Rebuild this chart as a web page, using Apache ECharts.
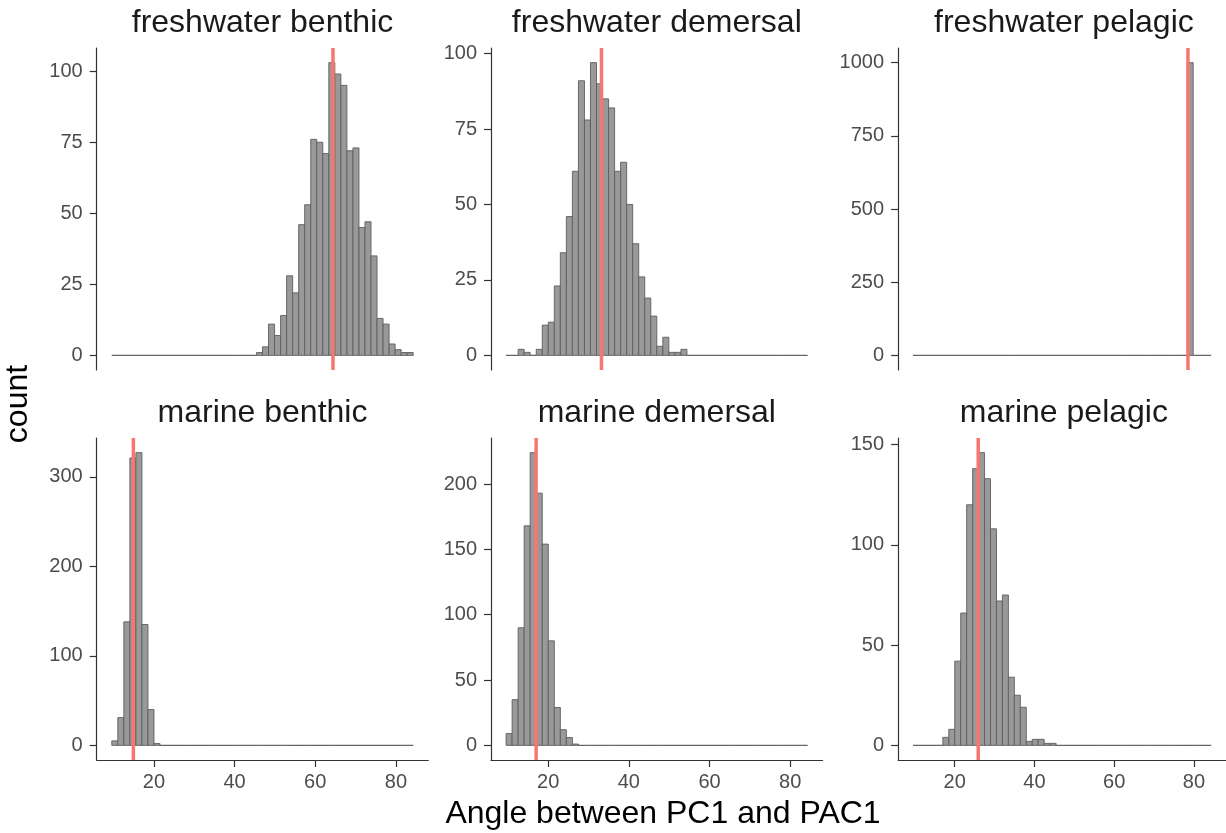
<!DOCTYPE html>
<html>
<head>
<meta charset="utf-8">
<script src="https://cdn.jsdelivr.net/npm/echarts@6.0.0/dist/echarts.min.js"></script>
<style>
  html, body { margin: 0; padding: 0; background: #fff; }
  #chart { width: 1226px; height: 833px; }
</style>
</head>
<body>
<div id="chart"></div>
<script>
// shared histogram bins (50 bins over the pooled angle range)
const binStart = 9.55
const binWidth = 1.495

const panelNames = ['freshwater benthic', 'freshwater demersal', 'freshwater pelagic',
  'marine benthic', 'marine demersal', 'marine pelagic']

// counts per bin
const fwBenthic = [0, 0, 0, 0, 0, 0, 0, 0, 0, 0, 0, 0, 0, 0, 0, 0, 0, 0, 0, 0, 0, 0, 0, 0,
  1, 3, 11, 7, 14, 28, 22, 46, 53, 76, 75, 71, 103, 99, 95, 72, 73, 45, 47, 35, 13, 11, 4, 2, 1, 1]
const fwDemersal = [0, 0, 2, 1, 0, 2, 10, 11, 23, 34, 46, 61, 91, 78, 97, 90, 85, 82, 61, 64,
  50, 37, 26, 19, 13, 3, 6, 1, 1, 2, 0, 0, 0, 0, 0, 0, 0, 0, 0, 0, 0, 0, 0, 0, 0, 0, 0, 0, 0, 0]
const fwPelagic = [0, 0, 0, 0, 0, 0, 0, 0, 0, 0, 0, 0, 0, 0, 0, 0, 0, 0, 0, 0, 0, 0, 0, 0, 0,
  0, 0, 0, 0, 0, 0, 0, 0, 0, 0, 0, 0, 0, 0, 0, 0, 0, 0, 0, 0, 0, 1000, 0, 0, 0]
const mBenthic = [5, 31, 138, 321, 327, 135, 40, 2, 0, 0, 0, 0, 0, 0, 0, 0, 0, 0, 0, 0, 0, 0, 0,
  0, 0, 0, 0, 0, 0, 0, 0, 0, 0, 0, 0, 0, 0, 0, 0, 0, 0, 0, 0, 0, 0, 0, 0, 0, 0, 0]
const mDemersal = [9, 35, 90, 168, 224, 193, 154, 80, 29, 12, 6, 1, 0, 0, 0, 0, 0, 0, 0, 0, 0,
  0, 0, 0, 0, 0, 0, 0, 0, 0, 0, 0, 0, 0, 0, 0, 0, 0, 0, 0, 0, 0, 0, 0, 0, 0, 0, 0, 0, 0]
const mPelagic = [0, 0, 0, 0, 0, 4, 8, 42, 66, 120, 138, 146, 133, 108, 72, 75, 34, 25, 19, 2,
  3, 3, 1, 1, 0, 0, 0, 0, 0, 0, 0, 0, 0, 0, 0, 0, 0, 0, 0, 0, 0, 0, 0, 0, 0, 0, 0, 0, 0, 0]
const panelCounts = [fwBenthic, fwDemersal, fwPelagic, mBenthic, mDemersal, mPelagic]

// observed angle per panel (red line)
const observed = [64.4, 33.2, 78.5, 14.9, 17.0, 25.9]

// tick labels
const xTicks = [20, 40, 60, 80]
const yTicks = [
  [0, 25, 50, 75, 100],
  [0, 25, 50, 75, 100],
  [0, 250, 500, 750, 1000],
  [0, 100, 200, 300],
  [0, 50, 100, 150, 200],
  [0, 50, 100, 150]
]

const xMin = 5.81
const xMax = 88.04
const font = 'Liberation Sans, Arial, sans-serif'

// panel layout (px)
const colLeft = [96.7, 491, 898.1]
const rowTop = [48, 438]
const panelW = 331.6
const panelH = 322

const chart = echarts.init(document.getElementById('chart'))

const grid = [], xAxis = [], yAxis = [], series = [], graphic = []

panelNames.forEach((name, i) => {
  const col = i % 3
  const row = Math.floor(i / 3)
  const counts = panelCounts[i]
  const top = Math.max.apply(null, counts)
  const yMin = -0.05 * top
  const yMax = 1.05 * top

  grid.push({ left: colLeft[col], top: rowTop[row], width: panelW, height: panelH })

  const bottomRow = row === 1
  xAxis.push({
    type: 'value',
    gridIndex: i,
    min: xMin,
    max: xMax,
    splitLine: { show: false },
    axisLine: { show: bottomRow, onZero: false, lineStyle: { color: '#333', width: 1.2 } },
    axisTick: { show: bottomRow, customValues: xTicks, length: 7, lineStyle: { color: '#333', width: 1.2 } },
    axisLabel: {
      show: bottomRow, customValues: xTicks, margin: 12, fontSize: 20, color: '#4D4D4D', fontFamily: font,
      formatter: v => String(v)
    }
  })
  yAxis.push({
    type: 'value',
    gridIndex: i,
    min: yMin,
    max: yMax,
    splitLine: { show: false },
    axisLine: { show: true, onZero: false, lineStyle: { color: '#333', width: 1.2 } },
    axisTick: { show: true, customValues: yTicks[i], length: 7, lineStyle: { color: '#333', width: 1.2 } },
    axisLabel: {
      customValues: yTicks[i], margin: 14, fontSize: 20, color: '#4D4D4D', fontFamily: font,
      formatter: v => String(v)
    }
  })

  const bins = counts.map((c, k) => [binStart + k * binWidth, binStart + (k + 1) * binWidth, c])
  series.push({
    type: 'custom',
    xAxisIndex: i,
    yAxisIndex: i,
    silent: true,
    encode: { x: [0, 1], y: 2 },
    data: bins,
    renderItem: (params, api) => {
      const p0 = api.coord([api.value(0), api.value(2)])
      const p1 = api.coord([api.value(1), 0])
      return {
        type: 'rect',
        shape: { x: p0[0], y: p0[1], width: p1[0] - p0[0], height: p1[1] - p0[1] },
        style: { fill: '#999999', stroke: '#5E5E5E', lineWidth: 0.9 }
      }
    }
  })
  // vertical reference line
  series.push({
    type: 'line',
    xAxisIndex: i,
    yAxisIndex: i,
    silent: true,
    symbol: 'none',
    lineStyle: { color: '#F8766D', width: 3.5 },
    data: [[observed[i], yMin], [observed[i], yMax]]
  })

  graphic.push({
    type: 'text',
    x: colLeft[col] + panelW / 2,
    y: rowTop[row] - 25,
    style: { text: name, align: 'center', verticalAlign: 'middle', fontSize: 32, fill: '#1A1A1A', fontFamily: font }
  })
})

graphic.push({
  type: 'text',
  x: 663,
  y: 814,
  style: { text: 'Angle between PC1 and PAC1', align: 'center', verticalAlign: 'middle', fontSize: 32, fill: '#000', fontFamily: font }
})
graphic.push({
  type: 'text',
  x: 18,
  y: 404,
  rotation: Math.PI / 2,
  style: { text: 'count', align: 'center', verticalAlign: 'middle', fontSize: 32, fill: '#000', fontFamily: font }
})

const option = {
  backgroundColor: '#fff',
  animation: false,
  grid,
  xAxis,
  yAxis,
  series,
  graphic
}
chart.setOption(option)
</script>
</body>
</html>
